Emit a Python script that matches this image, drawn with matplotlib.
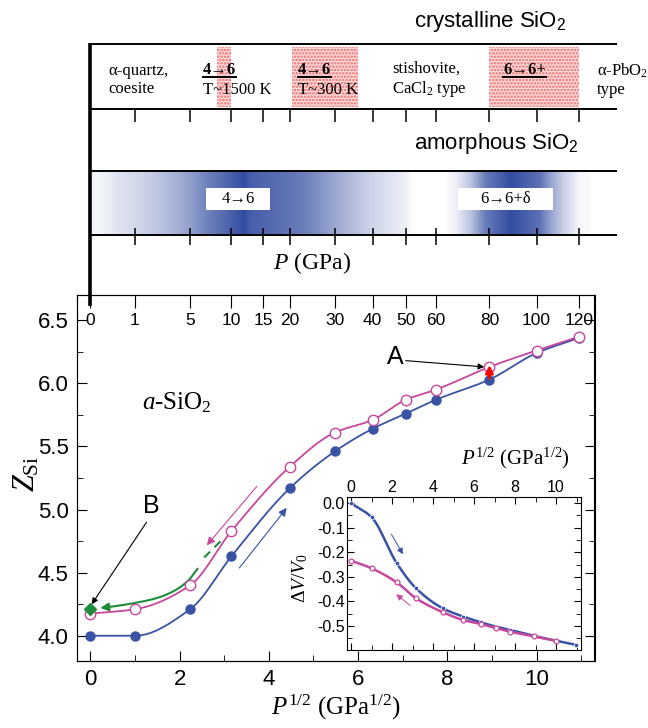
import numpy as np
import matplotlib
matplotlib.use("Agg")
import matplotlib.pyplot as plt
from matplotlib.patches import Rectangle
from matplotlib.lines import Line2D
from matplotlib.transforms import IdentityTransform
from matplotlib.ticker import MultipleLocator, FormatStrFormatter

W, H = 648, 728

# ── data ──────────────────────────────────────────────────────────────────────
P_GPA     = [0, 1, 5, 10, 20, 30, 40, 50, 60, 80, 100, 120]
Z_COMP    = [4.00, 4.00, 4.21, 4.63, 5.17, 5.46, 5.64, 5.76, 5.87, 6.03, 6.24, 6.36]
Z_DECOMP  = [4.175, 4.21, 4.40, 4.83, 5.34, 5.61, 5.71, 5.87, 5.95, 6.13, 6.26, 6.37]
DV_COMP   = [0.0, -0.057, -0.245, -0.346, -0.428, -0.462, -0.485, -0.503,
             -0.516, -0.541, -0.560, -0.577]
DV_DECOMP = [-0.234, -0.265, -0.323, -0.387, -0.444, -0.476, -0.492, -0.509,
             -0.523, -0.543, -0.561]

# quenched-from-A path (green) and point B
GREEN_X = [0.22, 0.50, 1.00, 1.50, 1.90, 2.20, 2.40]
GREEN_Y = [4.22, 4.232, 4.26, 4.30, 4.36, 4.44, 4.53]
GREEN_DASH_X = [2.55, 2.95]
GREEN_DASH_Y = [4.62, 4.76]
B_POINT = (0.0, 4.21)

TOP_TICKS_P = [0, 1, 5, 10, 15, 20, 30, 40, 50, 60, 80, 100, 120]
CRYST_REGIONS_P = [(8, 10), (20.5, 36), (80, 120)]

# amorphous band shading (P in GPa, relative darkness)
BAND_P = [0, 0.34, 1.94, 4.5, 7.1, 10.1, 11.8, 12.9, 23, 29.8, 39.3, 50, 52.5,
          63, 67.7, 73, 78.8, 89, 101.6, 107, 113, 120.3, 130]
BAND_I = [0.05, 0.15, 0.3, 0.5, 0.72, 0.9, 1.0, 0.9, 0.72, 0.5, 0.25, 0.08, 0.0,
          0.0, 0.1, 0.35, 0.75, 1.0, 0.8, 0.5, 0.25, 0.05, 0.0]

BLUE  = "#3953a4"
PINK  = "#c7479c"
GREEN = "#1e8c3a"
SERIF = ["Liberation Serif", "DejaVu Serif"]
SANS  = ["Liberation Sans", "DejaVu Sans"]

plt.rcParams["font.family"] = SANS
plt.rcParams["mathtext.fontset"] = "custom"
plt.rcParams["mathtext.rm"] = "Liberation Serif"
plt.rcParams["mathtext.it"] = "Liberation Serif:italic"
plt.rcParams["mathtext.bf"] = "Liberation Serif:bold"
plt.rcParams["mathtext.sf"] = "Liberation Sans"
plt.rcParams["hatch.linewidth"] = 1.2


def pchip(x, y, n=400):
    """Monotone cubic curve through the points, for drawing only."""
    x = np.asarray(x, float); y = np.asarray(y, float)
    h = np.diff(x); d = np.diff(y) / h
    m = np.zeros_like(x)
    m[0], m[-1] = d[0], d[-1]
    for k in range(1, len(x) - 1):
        if d[k - 1] * d[k] > 0:
            w1, w2 = 2 * h[k] + h[k - 1], h[k] + 2 * h[k - 1]
            m[k] = (w1 + w2) / (w1 / d[k - 1] + w2 / d[k])
    xs = np.linspace(x[0], x[-1], n)
    k = np.clip(np.searchsorted(x, xs) - 1, 0, len(x) - 2)
    t = (xs - x[k]) / h[k]
    h00 = 2 * t ** 3 - 3 * t ** 2 + 1
    h10 = t ** 3 - 2 * t ** 2 + t
    h01 = -2 * t ** 3 + 3 * t ** 2
    h11 = t ** 3 - t ** 2
    ys = h00 * y[k] + h10 * h[k] * m[k] + h01 * y[k + 1] + h11 * h[k] * m[k + 1]
    return xs, ys


def fpx(x, y):
    return x / W, 1 - y / H


s = np.sqrt(P_GPA)
s_ticks = np.sqrt(TOP_TICKS_P)

fig = plt.figure(figsize=(W / 100, H / 100), dpi=100)

# ── main panel ───────────────────────────────────────────────────────────────
ax = fig.add_axes([77 / W, 1 - 661 / H, 517.5 / W, 366 / H])
ax.set_xlim(-0.3, 11.3)
ax.set_ylim(3.8, 6.7)

ax.plot(*pchip(s, Z_COMP), color=BLUE, lw=1.3)
ax.plot(*pchip(s, Z_DECOMP), color=PINK, lw=1.3)
ax.plot(s, Z_COMP, "o", color=BLUE, ms=6.5, zorder=4)
ax.plot(s, Z_DECOMP, "o", mfc="white", mec=PINK, mew=1.0, ms=7.5, zorder=4)

gx, gy = pchip(GREEN_X, GREEN_Y)
ax.plot(gx[20:], gy[20:], color=GREEN, lw=1.5)
ax.annotate("", xy=(GREEN_X[0], GREEN_Y[0]), xytext=(gx[20], gy[20]),
            arrowprops=dict(arrowstyle="-|>", color=GREEN, lw=1.5, mutation_scale=12,
                            shrinkA=0, shrinkB=0))
ax.plot(GREEN_DASH_X, GREEN_DASH_Y, color=GREEN, lw=1.5, ls=(0, (4, 3)))
ax.plot(*B_POINT, "D", color=GREEN, ms=6, zorder=5)

# red arrow at point A (80 GPa)
ax.annotate("", xy=(s[9], Z_DECOMP[9] + 0.015), xytext=(s[9], Z_COMP[9] + 0.01),
            arrowprops=dict(arrowstyle="-|>", color="red", lw=2, mutation_scale=11,
                            shrinkA=0, shrinkB=0),
            zorder=6)

# direction arrows
ax.annotate("", xy=(2.57, 4.70), xytext=(3.77, 5.20),
            arrowprops=dict(arrowstyle="-|>", color=PINK, lw=0.8, mutation_scale=12))
ax.annotate("", xy=(4.44, 5.03), xytext=(3.30, 4.52),
            arrowprops=dict(arrowstyle="-|>", color=BLUE, lw=0.8, mutation_scale=12))

ax.text(6.83, 6.21, "A", fontsize=18, ha="center", va="center")
ax.annotate("", xy=(8.83, 6.13), xytext=(7.07, 6.18),
            arrowprops=dict(arrowstyle="-|>", color="black", lw=0.8, mutation_scale=9,
                            shrinkA=0, shrinkB=0))
ax.text(1.37, 5.03, "B", fontsize=18, ha="center", va="center")
ax.annotate("", xy=(0.03, 4.25), xytext=(1.26, 4.90),
            arrowprops=dict(arrowstyle="-|>", color="black", lw=0.8, mutation_scale=9,
                            shrinkA=0, shrinkB=0))

fig.text(*fpx(141.7, 409), r"$a$-SiO$_2$", fontsize=18, family=SERIF,
         ha="left", va="baseline")

ax.xaxis.set_major_locator(MultipleLocator(2))
ax.xaxis.set_minor_locator(MultipleLocator(1))
ax.yaxis.set_major_locator(MultipleLocator(0.5))
ax.yaxis.set_minor_locator(MultipleLocator(0.25))
ax.yaxis.set_major_formatter(FormatStrFormatter("%.1f"))
ax.tick_params(which="both", direction="in", top=False, right=True, labelsize=16)
ax.tick_params(which="major", length=7, pad=6)
ax.tick_params(which="minor", length=4)
ax.set_xlabel(r"$P^{1/2}$ (GPa$^{1/2}$)", family=SERIF, fontsize=18, labelpad=2)
fig.text(*fpx(27, 474), r"$Z_{\rm Si}$", family=SERIF, fontsize=22,
         rotation=90, ha="center", va="center")

axtop = ax.twiny()
axtop.set_xlim(ax.get_xlim())
axtop.set_xticks(s_ticks)
axtop.set_xticklabels([str(p) for p in TOP_TICKS_P])
axtop.tick_params(direction="in", length=9, pad=-24, labelsize=12.5)

# ── inset ΔV/V0 ──────────────────────────────────────────────────────────────
ax_in = fig.add_axes([347.3 / W, 1 - 650 / H, 233.4 / W, 152.7 / H])
ax_in.set_xlim(-0.18, 11.2)
ax_in.set_ylim(-0.598, 0.024)
n_dec = len(DV_DECOMP)
ax_in.plot(*pchip(s, DV_COMP), color=BLUE, lw=1.8)
ax_in.plot(*pchip(s[:n_dec], DV_DECOMP), color=PINK, lw=1.8)
ax_in.plot(s, DV_COMP, "o", color=BLUE, ms=3.2, mec="white", mew=0.5)
ax_in.plot(s[:n_dec], DV_DECOMP, "o", mfc="white", mec=PINK, mew=0.9, ms=3.5)
ax_in.annotate("", xy=(2.6, -0.218), xytext=(1.9, -0.116),
               arrowprops=dict(arrowstyle="-|>", color=BLUE, lw=0.7, mutation_scale=9))
ax_in.annotate("", xy=(2.1, -0.364), xytext=(3.0, -0.424),
               arrowprops=dict(arrowstyle="-|>", color=PINK, lw=0.7, mutation_scale=9))
ax_in.xaxis.set_major_locator(MultipleLocator(2))
ax_in.xaxis.set_minor_locator(MultipleLocator(1))
ax_in.yaxis.set_major_locator(MultipleLocator(0.1))
ax_in.yaxis.set_minor_locator(MultipleLocator(0.05))
ax_in.yaxis.set_major_formatter(FormatStrFormatter("%.1f"))
ax_in.tick_params(which="both", direction="in", top=True, bottom=True, right=True,
                  labeltop=True, labelbottom=False, labelsize=11.5, pad=2)
ax_in.tick_params(which="major", length=5)
ax_in.tick_params(which="minor", length=3.5)
fig.text(*fpx(300, 578), r"$\Delta V/V_0$", family=SERIF, fontsize=14,
         rotation=90, ha="center", va="center")
fig.text(*fpx(515, 458), r"$P^{1/2}$ (GPa$^{1/2}$)", family=SERIF, fontsize=15,
         ha="center", va="center")

# ── top schematic panel (x shared with main, y in pixel rows) ────────────────
axt = fig.add_axes([77 / W, 1 - 295 / H, 517.5 / W, 295 / H])
axt.set_xlim(ax.get_xlim())
axt.set_ylim(295, 0)
axt.axis("off")
x_end = 11.8

for yline in (43.5, 109, 171, 235):
    axt.hlines(yline, 0, x_end, color="black", lw=1.4, clip_on=False, zorder=3)
axt.vlines(s_ticks[1:], 109, 122, color="black", lw=1.1, clip_on=False)
axt.vlines(s_ticks[1:], 228, 245, color="black", lw=1.1, clip_on=False)
axt.vlines(0, 43, 306, color="black", lw=2.6, clip_on=False, zorder=5)

for p0, p1 in CRYST_REGIONS_P:
    x0, x1 = np.sqrt(p0), np.sqrt(p1)
    axt.add_patch(Rectangle((x0, 46.5), x1 - x0, 60.5, facecolor="#fcdcdc",
                            edgecolor="#f06868", hatch=".....", lw=0, zorder=1))

sx = np.linspace(-0.05, 11.2, 600)
inten = np.interp(sx ** 2 * np.sign(sx), BAND_P, BAND_I)
dark = np.array([0.20, 0.30, 0.63])
rgb = 1 - inten[:, None] * (1 - dark[None, :])
axt.imshow(rgb[None, :, :], extent=[sx[0], sx[-1], 234, 172], aspect="auto",
           interpolation="bilinear", zorder=0)

for (x0, x1), lab in (((206, 270), "4→6"), ((458, 553), "6→6+δ")):
    fig.add_artist(Rectangle(fpx(x0, 210), (x1 - x0) / W, 22 / H,
                             transform=fig.transFigure, fc="white", ec="none", zorder=1))
    fig.text(*fpx((x0 + x1) / 2, 199), lab, family=SERIF, fontsize=12,
             ha="center", va="center")

fig.text(*fpx(414, 22), r"crystalline SiO$_\mathsf{2}$", fontsize=16, ha="left", va="center")
fig.text(*fpx(414, 143), r"amorphous SiO$_\mathsf{2}$", fontsize=16, ha="left", va="center")
fig.text(*fpx(312, 263), r"$P$ (GPa)", family=SERIF, fontsize=17, ha="center", va="center")

fig.text(*fpx(108, 80), "α-quartz,\ncoesite", family=SERIF, fontsize=12,
         ha="left", va="center", linespacing=1.2)
fig.text(*fpx(392, 80), "stishovite,\nCaCl$_2$ type", family=SERIF, fontsize=12,
         ha="left", va="center", linespacing=1.2)
fig.text(*fpx(597, 80), "α-PbO$_2$\ntype", family=SERIF, fontsize=12,
         ha="left", va="center", linespacing=1.2)
fig.text(*fpx(203, 90), "T~1500 K", family=SERIF, fontsize=12, ha="left", va="center")
fig.text(*fpx(298, 90), "T~300 K", family=SERIF, fontsize=12, ha="left", va="center")
bold_texts = [fig.text(*fpx(x, 70), lab, family=SERIF, fontsize=12, weight="bold",
                       ha="left", va="center")
              for x, lab in ((203, "4→6"), (298, "4→6"), (503, "6→6+"))]

fig.canvas.draw()
renderer = fig.canvas.get_renderer()
for t in bold_texts:
    bb = t.get_window_extent(renderer)
    fig.add_artist(Line2D([bb.x0, bb.x1], [bb.y0 + 1, bb.y0 + 1], lw=1.4,
                          color="black", transform=IdentityTransform()))

fig.savefig("out.png", dpi=100)
